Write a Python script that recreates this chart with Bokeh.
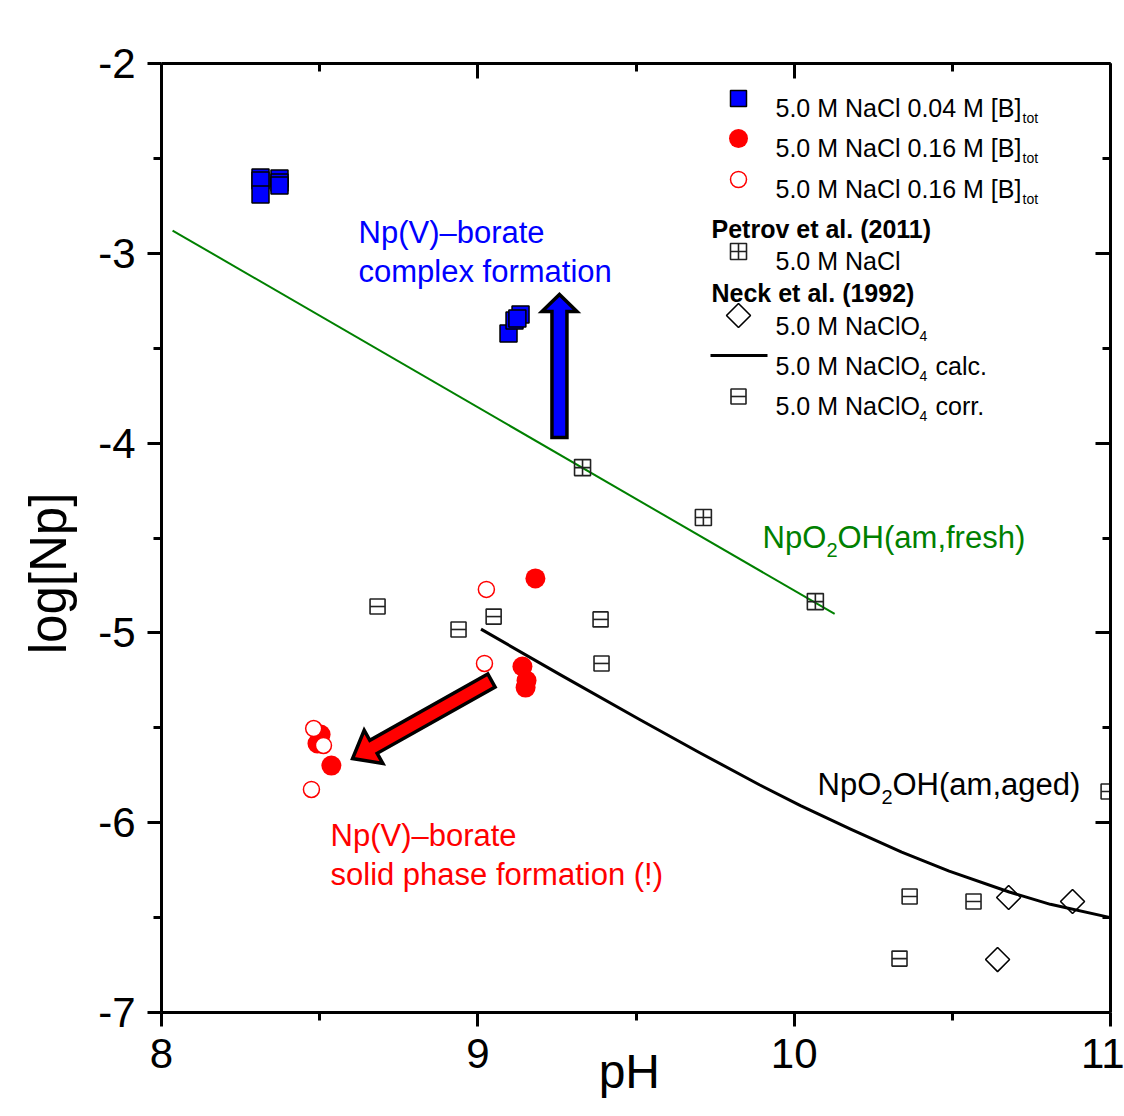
import numpy as np
from bokeh.plotting import figure
from bokeh.models import Label, LinearAxis, Range1d, FixedTicker
from bokeh.embed import file_html
from bokeh.resources import INLINE

# ---------------- data ----------------
# 5.0 M NaCl, 0.04 M [B]tot (blue filled squares)
blue_ph = [8.313, 8.313, 8.313, 8.373, 8.373, 8.373, 9.097, 9.116, 9.135, 9.125]
blue_log = [-2.601, -2.616, -2.690, -2.606, -2.627, -2.643, -3.423, -3.354, -3.322, -3.343]

# 5.0 M NaCl, 0.16 M [B]tot (red filled circles)
red_ph = [9.182, 9.141, 9.154, 9.151, 8.503, 8.493, 8.537]
red_log = [-4.713, -5.177, -5.251, -5.288, -5.535, -5.583, -5.699]

# 5.0 M NaCl, 0.16 M [B]tot (red open circles)
open_ph = [9.027, 9.021, 8.481, 8.512, 8.474]
open_log = [-4.771, -5.161, -5.504, -5.593, -5.825]

# Petrov et al. (2011), 5.0 M NaCl
petrov_ph = [9.331, 9.713, 10.067]
petrov_log = [-4.129, -4.392, -4.835]

# Neck et al. (1992), 5.0 M NaClO4
neck_ph = [10.678, 10.880, 10.643]
neck_log = [-6.394, -6.415, -6.721]

# Neck et al. (1992), 5.0 M NaClO4 corr.
corr_ph = [8.683, 8.939, 9.050, 9.388, 9.391, 10.365, 10.567, 10.333, 10.994]
corr_log = [-4.861, -4.982, -4.914, -4.929, -5.161, -6.389, -6.415, -6.716, -5.836]

# NpO2OH(am,fresh) line
fresh_ph = [8.035, 10.128]
fresh_log = [-2.88, -4.90]

# NpO2OH(am,aged) calc. curve
calc_ph = [9.01, 9.26, 9.51, 9.70, 9.89, 10.02, 10.18, 10.34, 10.49, 10.68, 10.81, 11.0]
calc_log = [-4.98, -5.22, -5.455, -5.63, -5.80, -5.91, -6.035, -6.155, -6.255, -6.365, -6.43, -6.50]

# arrows (start -> tip)
blue_arrow_ph = [9.258, 9.258]
blue_arrow_log = [-3.970, -3.217]
red_arrow_ph = [9.043, 8.604]
red_arrow_log = [-5.251, -5.662]

x_ticks = [8, 9, 10, 11]
x_minor = [8.5, 9.5, 10.5]
y_ticks = [-7, -6, -5, -4, -3, -2]
y_minor = [-6.5, -5.5, -4.5, -3.5, -2.5]
y_tick_labels = ["-7", "-6", "-5", "-4", "-3", "-2"]

# ---------------- layout ----------------
X0, X1, Y0, Y1 = 8.0, 11.0, -7.0, -2.0
FL, FT, FW, FH = 161, 63, 949, 949
W, H = 1124, 1116
FONT = "Liberation Sans"
NBSP = "\u00a0"


def px2x(px):
    return X0 + (px - FL) / FW * (X1 - X0)


def py2y(py):
    return Y1 - (py - FT) / FH * (Y1 - Y0)


def x2px(x):
    return FL + (x - X0) / (X1 - X0) * FW


def y2py(y):
    return FT + (Y1 - y) / (Y1 - Y0) * FH


p = figure(width=W, height=H, x_range=Range1d(X0, X1), y_range=Range1d(Y0, Y1),
           output_backend="svg", toolbar_location=None,
           min_border_left=FL, min_border_right=W - FL - FW,
           min_border_top=FT, min_border_bottom=H - FT - FH)
p.xgrid.visible = False
p.ygrid.visible = False
p.outline_line_color = None
p.background_fill_color = "white"
p.border_fill_color = "white"


def style_axis(ax, inward, show_labels):
    ax.axis_line_width = 3
    ax.axis_line_color = "black"
    ax.major_tick_line_width = 3
    ax.minor_tick_line_width = 3
    ax.major_tick_line_color = "black"
    ax.minor_tick_line_color = "black"
    if inward:
        ax.major_tick_in, ax.major_tick_out = 15, 0
        ax.minor_tick_in, ax.minor_tick_out = 8, 0
    else:
        ax.major_tick_in, ax.major_tick_out = 0, 14
        ax.minor_tick_in, ax.minor_tick_out = 0, 8
    ax.major_label_text_font = FONT
    ax.major_label_text_font_size = "42px"
    ax.major_label_text_color = "black"
    ax.major_label_standoff = 12
    if not show_labels:
        ax.major_label_overrides = {t: "" for t in ax.ticker.ticks}


p.xaxis[0].ticker = FixedTicker(ticks=x_ticks, minor_ticks=x_minor)
p.yaxis[0].ticker = FixedTicker(ticks=y_ticks, minor_ticks=y_minor)
style_axis(p.xaxis[0], False, True)
style_axis(p.yaxis[0], False, True)
p.yaxis[0].major_label_overrides = dict(zip(y_ticks, y_tick_labels))

# axis titles (non-breaking spaces shift the centred title like the reference)
p.yaxis[0].axis_label = "log[Np]" + NBSP * 5
p.yaxis[0].axis_label_text_font = FONT
p.yaxis[0].axis_label_text_font_size = "51px"
p.yaxis[0].axis_label_text_font_style = "normal"
p.yaxis[0].axis_label_text_color = "black"
p.yaxis[0].axis_label_standoff = 18

p.xaxis[0].axis_label = "pH" + NBSP
p.xaxis[0].axis_label_text_font = FONT
p.xaxis[0].axis_label_text_font_size = "48px"
p.xaxis[0].axis_label_text_font_style = "normal"
p.xaxis[0].axis_label_text_color = "black"
p.xaxis[0].axis_label_standoff = -26

top = LinearAxis(ticker=FixedTicker(ticks=x_ticks, minor_ticks=x_minor))
style_axis(top, True, False)
p.add_layout(top, "above")
right = LinearAxis(ticker=FixedTicker(ticks=y_ticks, minor_ticks=y_minor))
style_axis(right, True, False)
p.add_layout(right, "right")

# ---------------- lines ----------------
p.line(fresh_ph, fresh_log, line_color="#008000", line_width=2)
p.line(calc_ph, calc_log, line_color="black", line_width=3, line_join="round")

# ---------------- markers ----------------
p.scatter(corr_ph, corr_log, marker="square", size=15, fill_color=None,
          line_color="#222222", line_width=1.6)
p.scatter(corr_ph, corr_log, marker="dash", size=15, line_color="#222222", line_width=1.6)
p.scatter(petrov_ph, petrov_log, marker="square_cross", size=16, fill_color=None,
          line_color="#222222", line_width=1.6)
p.scatter(neck_ph, neck_log, marker="square", angle=np.pi / 4, size=17, fill_color=None,
          line_color="black", line_width=1.6)
p.scatter(blue_ph, blue_log, marker="square", size=17, fill_color="#0000ff",
          line_color="black", line_width=1.5)
p.scatter(red_ph, red_log, marker="circle", size=20, fill_color="#ff0000", line_color=None)
p.scatter(open_ph, open_log, marker="circle", size=16, fill_color="white",
          line_color="#ff0000", line_width=1.5)


# ---------------- arrows ----------------
def arrow_patch(xs, ys, shaft_hw, head_hw, head_len, color):
    a0 = np.array([x2px(xs[0]), y2py(ys[0])])
    a1 = np.array([x2px(xs[1]), y2py(ys[1])])
    d = a1 - a0
    u = d / np.hypot(*d)
    n = np.array([-u[1], u[0]])
    hb = a1 - u * head_len
    pts = [a0 + n * shaft_hw, hb + n * shaft_hw, hb + n * head_hw, a1,
           hb - n * head_hw, hb - n * shaft_hw, a0 - n * shaft_hw]
    px = [px2x(q[0]) for q in pts]
    py = [py2y(q[1]) for q in pts]
    p.patch(px, py, fill_color=color, line_color="black", line_width=3.5, line_join="miter")


arrow_patch(blue_arrow_ph, blue_arrow_log, 7.5, 17.5, 17, "#0000ff")
arrow_patch(red_arrow_ph, red_arrow_log, 7.5, 19, 24, "#ff0000")


# ---------------- texts ----------------
def add_text(px, py, text, size, color="black", bold=False, align="left",
             baseline="alphabetic", angle=0.0):
    p.add_layout(Label(x=px2x(px), y=py2y(py), text=text, text_font=FONT,
                       text_font_size=f"{size}px", text_color=color,
                       text_font_style="bold" if bold else "normal",
                       text_align=align, text_baseline=baseline, angle=angle))


# annotations
add_text(358, 232, "Np(V)–borate", 31, color="#0000ff")
add_text(358, 271, "complex formation", 31, color="#0000ff")
add_text(330, 835, "Np(V)–borate", 31, color="#ff0000")
add_text(330, 874, "solid phase formation (!)", 31, color="#ff0000")

add_text(762, 537, "NpO", 31, color="#008000")
add_text(826, 549, "2", 20, color="#008000")
add_text(837, 537, "OH(am,fresh)", 31, color="#008000")

add_text(817, 784, "NpO", 31, color="black")
add_text(881, 796, "2", 20, color="black")
add_text(892, 784, "OH(am,aged)", 31, color="black")

# ---------------- legend (drawn by hand) ----------------
LMX, LTX, LHX = 738, 775, 711
LFS = 25


def leg_marker(cy, **kw):
    p.scatter([px2x(LMX)], [py2y(cy)], **kw)


leg_marker(98, marker="square", size=16, fill_color="#0000ff", line_color="black", line_width=1.5)
add_text(LTX, 107, "5.0 M NaCl 0.04 M [B]", LFS)
add_text(1022, 117, "tot", 14)

leg_marker(138, marker="circle", size=19, fill_color="#ff0000", line_color=None)
add_text(LTX, 147, "5.0 M NaCl 0.16 M [B]", LFS)
add_text(1022, 157, "tot", 14)

leg_marker(179, marker="circle", size=16, fill_color="white", line_color="#ff0000", line_width=1.5)
add_text(LTX, 188, "5.0 M NaCl 0.16 M [B]", LFS)
add_text(1022, 198, "tot", 14)

add_text(LHX, 228, "Petrov et al. (2011)", LFS, bold=True)
leg_marker(251, marker="square_cross", size=16, fill_color=None, line_color="#222222", line_width=1.6)
add_text(LTX, 260, "5.0 M NaCl", LFS)

add_text(LHX, 292, "Neck et al. (1992)", LFS, bold=True)
leg_marker(315, marker="square", angle=np.pi / 4, size=17, fill_color=None,
           line_color="black", line_width=1.6)
add_text(LTX, 325, "5.0 M NaClO", LFS)
add_text(919, 335, "4", 14)

p.line([px2x(710), px2x(767)], [py2y(355), py2y(355)], line_color="black", line_width=3)
add_text(LTX, 365, "5.0 M NaClO", LFS)
add_text(919, 375, "4", 14)
add_text(935, 365, "calc.", LFS)

leg_marker(396, marker="square", size=15, fill_color=None, line_color="#222222", line_width=1.6)
leg_marker(396, marker="dash", size=15, line_color="#222222", line_width=1.6)
add_text(LTX, 405, "5.0 M NaClO", LFS)
add_text(919, 415, "4", 14)
add_text(935, 405, "corr.", LFS)

open("out.html", "w").write(file_html(p, INLINE))
